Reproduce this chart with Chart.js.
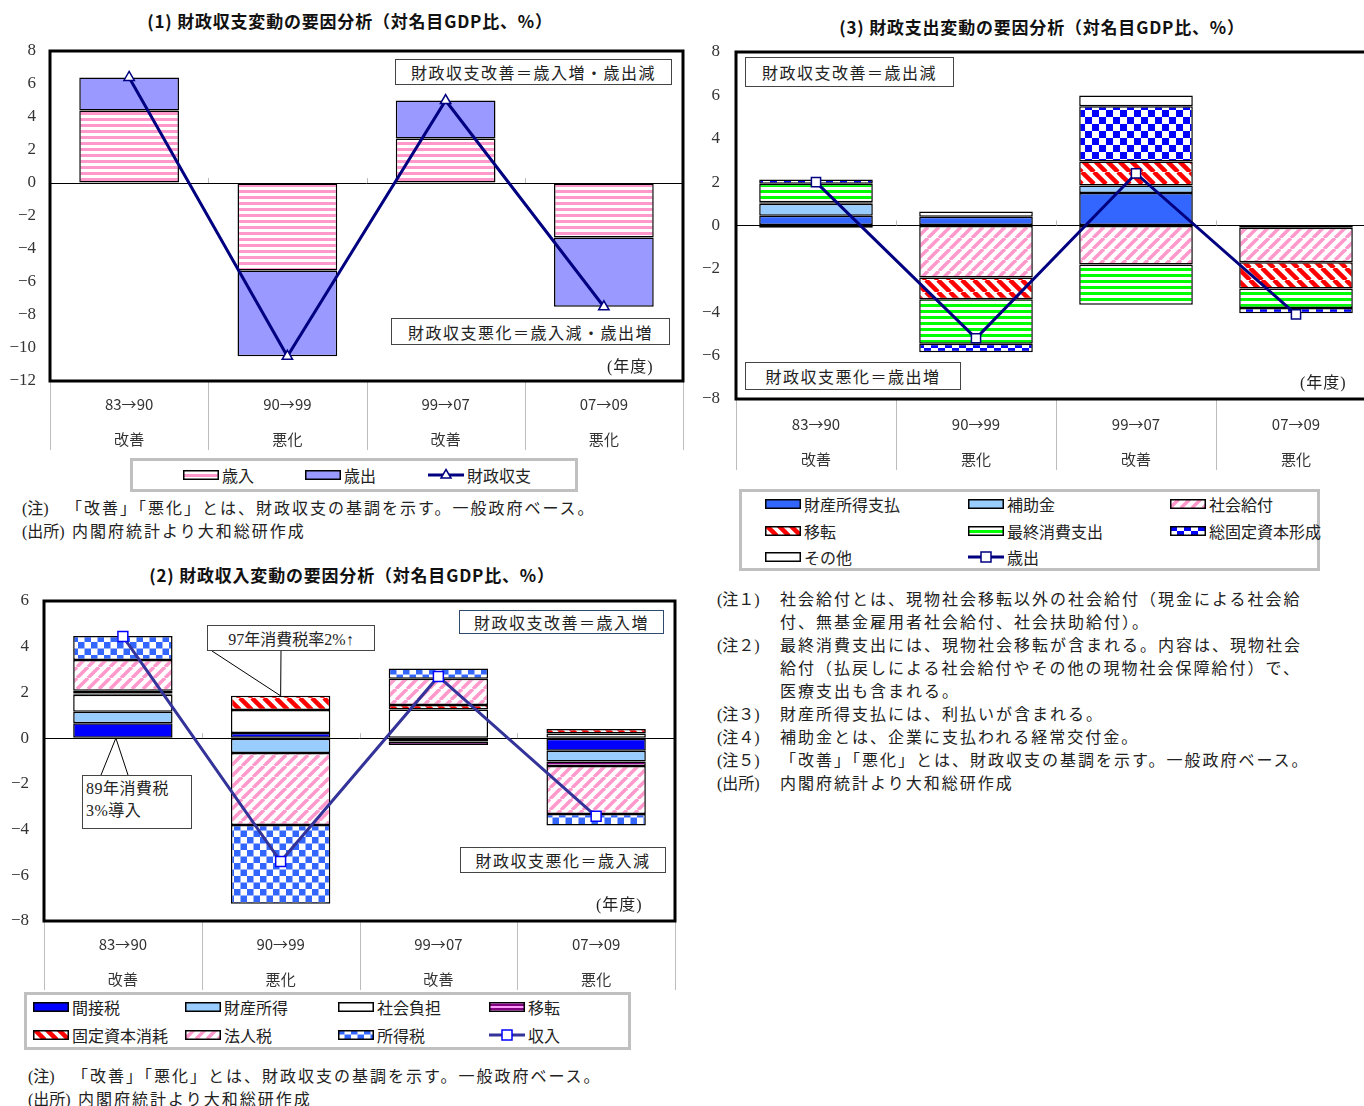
<!DOCTYPE html>
<html lang="ja">
<head>
<meta charset="utf-8">
<script src="https://cdn.jsdelivr.net/npm/chart.js@4.4.1/dist/chart.umd.min.js"></script>
<style>
  html, body { margin: 0; padding: 0; background: #fff; }
  body { width: 1364px; height: 1106px; overflow: hidden; position: relative;
         font-family: "Liberation Serif", "Noto Sans CJK JP", serif; color: #222; }
  canvas.chart { position: absolute; }
  .title { position: absolute; font-family: "Noto Sans CJK JP", sans-serif; font-weight: bold;
           font-size: 17px; letter-spacing: 0.8px; color: #111; white-space: nowrap; transform: translateX(-50%); }
  .box { position: absolute; background: #fff; border: 1.5px solid #444; box-sizing: border-box;
         display: flex; align-items: center; justify-content: center; font-size: 16px;
         letter-spacing: 1.5px; white-space: nowrap; }
  .tag { position: absolute; font-size: 16px; letter-spacing: 1px; white-space: nowrap; }
  .note { position: absolute; font-size: 16px; letter-spacing: 2px; line-height: 23px; white-space: nowrap; }
  .note span { display: inline-block; letter-spacing: 0; }
  .legend { position: absolute; border: 3px solid #c0c0c0; box-sizing: border-box; background: #fff; }
  .item { position: absolute; height: 20px; display: flex; align-items: center; font-size: 16px; white-space: nowrap; }
  .item canvas { margin-right: 3px; }
</style>
</head>
<body>

<!-- (1) 財政収支 -->
<div class="title" style="left:350px;top:8px">(1) 財政収支変動の要因分析（対名目GDP比、%）</div>
<canvas id="chartBalance" class="chart" width="700" height="420" style="left:0;top:40px"></canvas>
<div class="box" style="left:395px;top:59px;width:277px;height:26px">財政収支改善＝歳入増・歳出減</div>
<div class="box" style="left:391px;top:318px;width:279px;height:27px">財政収支悪化＝歳入減・歳出増</div>
<div class="tag" style="left:607px;top:353px">(年度)</div>
<div class="legend" style="left:130px;top:458px;width:448px;height:34px"></div>
<div id="legendBalance"></div>
<div class="note" style="left:22px;top:497px">
  <div><span style="width:44px">(注)</span>「改善」「悪化」とは、財政収支の基調を示す。一般政府ベース。</div>
  <div><span style="width:44px">(出所)</span> 内閣府統計より大和総研作成</div>
</div>

<!-- (2) 財政収入 -->
<div class="title" style="left:352px;top:562px">(2) 財政収入変動の要因分析（対名目GDP比、%）</div>
<canvas id="chartRevenue" class="chart" width="700" height="406" style="left:0;top:590px"></canvas>
<div class="box" style="left:459px;top:610px;width:205px;height:24px;border-color:#2f4a6a">財政収支改善＝歳入増</div>
<div class="box" style="left:460px;top:847px;width:206px;height:26px">財政収支悪化＝歳入減</div>
<div class="box" style="left:207px;top:625px;width:168px;height:26px;letter-spacing:0">97年消費税率2%↑</div>
<div class="box" style="left:82px;top:775px;width:110px;height:54px;display:block;padding:2px 0 0 3px;line-height:22px;letter-spacing:0.5px">89年消費税<br>3%導入</div>
<div class="tag" style="left:596px;top:891px">(年度)</div>
<div class="legend" style="left:24px;top:992px;width:607px;height:58px"></div>
<div id="legendRevenue"></div>
<div class="note" style="left:28px;top:1065px">
  <div><span style="width:44px">(注)</span>「改善」「悪化」とは、財政収支の基調を示す。一般政府ベース。</div>
  <div><span style="width:44px">(出所)</span> 内閣府統計より大和総研作成</div>
</div>

<!-- (3) 財政支出 -->
<div class="title" style="left:1042px;top:14px">(3) 財政支出変動の要因分析（対名目GDP比、%）</div>
<canvas id="chartSpending" class="chart" width="700" height="434" style="left:686px;top:40px"></canvas>
<div class="box" style="left:745px;top:57px;width:209px;height:30px">財政収支改善＝歳出減</div>
<div class="box" style="left:745px;top:362px;width:216px;height:28px">財政収支悪化＝歳出増</div>
<div class="tag" style="left:1300px;top:369px">(年度)</div>
<div class="legend" style="left:739px;top:489px;width:581px;height:82px"></div>
<div id="legendSpending"></div>
<div class="note" style="left:717px;top:588px">
  <div><span style="width:63px">(注１)</span>社会給付とは、現物社会移転以外の社会給付（現金による社会給</div>
  <div><span style="width:63px"></span>付、無基金雇用者社会給付、社会扶助給付）。</div>
  <div><span style="width:63px">(注２)</span>最終消費支出には、現物社会移転が含まれる。内容は、現物社会</div>
  <div><span style="width:63px"></span>給付（払戻しによる社会給付やその他の現物社会保障給付）で、</div>
  <div><span style="width:63px"></span>医療支出も含まれる。</div>
  <div><span style="width:63px">(注３)</span>財産所得支払には、利払いが含まれる。</div>
  <div><span style="width:63px">(注４)</span>補助金とは、企業に支払われる経常交付金。</div>
  <div><span style="width:63px">(注５)</span>「改善」「悪化」とは、財政収支の基調を示す。一般政府ベース。</div>
  <div><span style="width:63px">(出所)</span>内閣府統計より大和総研作成</div>
</div>

<script>
// ---- data ----
const periods = ['83→90', '90→99', '99→07', '07→09'];
const trend = ['改善', '悪化', '改善', '悪化'];

// (1) 財政収支変動
const balRevenue = [4.4, -5.3, 2.7, -3.3];     // 歳入
const balSpending = [2.0, -5.2, 2.3, -4.2];    // 歳出
const balTotal = [6.4, -10.5, 5.0, -7.5];      // 財政収支
const balRange = [-12, 8];

// (2) 財政収入変動
const revIndirect = [0.65, 0.23, -0.15, -0.55];     // 間接税
const revProperty = [0.5, -0.65, 0, -0.47];         // 財産所得
const revSocial = [0.75, 1.0, 1.25, 0.2];           // 社会負担
const revTransfer = [0.05, 0, -0.15, -0.2];         // 移転
const revDepreciation = [0.12, 0.62, 0.2, 0.2];     // 固定資本消耗
const revCorporate = [1.35, -3.15, 1.15, -2.1];     // 法人税
const revIncome = [1.05, -3.45, 0.45, -0.5];        // 所得税
const revTotal = [4.45, -5.4, 2.7, -3.42];          // 収入
const revRange = [-8, 6];

// (3) 財政支出変動
const expProperty = [0.45, 0.4, 1.5, 0];            // 財産所得支払
const expSubsidy = [0.55, 0, 0.35, -0.1];           // 補助金
const expBenefit = [0, -2.4, -1.8, -1.6];           // 社会給付
const expTransfer = [0.07, -1.0, 1.1, -1.2];        // 移転
const expConsumption = [0.85, -2.05, -1.85, -0.9];  // 最終消費支出
const expInvestment = [0.2, -0.4, 2.55, -0.25];     // 総固定資本形成
const expOther = [-0.1, 0.25, 0.5, 0];              // その他
const expTotal = [2.0, -5.2, 2.4, -4.1];            // 歳出
const expRange = [-8, 8];

// ---- fills ----
function makePattern(kind, fg, bg, size, lw) {
    const c = document.createElement('canvas');
    c.width = size; c.height = size;
    const g = c.getContext('2d');
    g.fillStyle = bg; g.fillRect(0, 0, size, size);
    g.fillStyle = fg; g.strokeStyle = fg; g.lineWidth = lw || 3;
    if (kind === 'hstripe') {
        g.fillRect(0, 0, size, size / 2);
    } else if (kind === 'checker') {
        g.fillRect(0, 0, size / 2, size / 2);
        g.fillRect(size / 2, size / 2, size / 2, size / 2);
    } else {
        for (let k = -1; k <= 1; k++) {
            g.beginPath();
            if (kind === 'up') { g.moveTo(k * size, size); g.lineTo(k * size + size, 0); }
            else { g.moveTo(k * size, 0); g.lineTo(k * size + size, size); }
            g.stroke();
        }
    }
    return g.createPattern(c, 'repeat');
}

const pinkStripe = makePattern('hstripe', '#ff99cc', '#ffffff', 6);
const greenStripe = makePattern('hstripe', '#00ff00', '#ffffff', 6);
const pinkDiag = makePattern('up', '#ff99cc', '#ffffff', 11, 3.5);
const redDiag = makePattern('down', '#ff0000', '#ffffff', 12, 4.5);
const blueChecker = makePattern('checker', '#3366ff', '#ffffff', 13);
const navyChecker = makePattern('checker', '#0000ff', '#ffffff', 14);
const purpleStripe = makePattern('hstripe', '#800080', '#ff99ff', 4);

const balSeries = [
    { label: '歳入', data: balRevenue, fill: pinkStripe },
    { label: '歳出', data: balSpending, fill: '#9999ff' }
];
const revSeries = [
    { label: '間接税', data: revIndirect, fill: '#0000ff' },
    { label: '財産所得', data: revProperty, fill: '#99ccff' },
    { label: '社会負担', data: revSocial, fill: '#ffffff' },
    { label: '移転', data: revTransfer, fill: purpleStripe },
    { label: '固定資本消耗', data: revDepreciation, fill: redDiag },
    { label: '法人税', data: revCorporate, fill: pinkDiag },
    { label: '所得税', data: revIncome, fill: blueChecker }
];
const expSeries = [
    { label: '財産所得支払', data: expProperty, fill: '#3366ff' },
    { label: '補助金', data: expSubsidy, fill: '#99ccff' },
    { label: '社会給付', data: expBenefit, fill: pinkDiag },
    { label: '移転', data: expTransfer, fill: redDiag },
    { label: '最終消費支出', data: expConsumption, fill: greenStripe },
    { label: '総固定資本形成', data: expInvestment, fill: navyChecker },
    { label: 'その他', data: expOther, fill: '#ffffff' }
];

// ---- frame, category dividers and callouts ----
const framePlugin = {
    id: 'frame',
    afterDraw(chart, args, opts) {
        const { ctx, chartArea: a, scales: { x, y } } = chart;
        const half = (x.getPixelForValue(1) - x.getPixelForValue(0)) / 2;
        const zy = y.getPixelForValue(0);
        ctx.save();
        ctx.strokeStyle = '#bdbdbd';
        ctx.lineWidth = 1;
        for (let i = 0; i <= periods.length; i++) {
            const px = Math.round(x.getPixelForValue(i) - half) + 0.5;
            ctx.beginPath(); ctx.moveTo(px, a.bottom); ctx.lineTo(px, a.bottom + opts.divider); ctx.stroke();
            if (i > 0 && i < periods.length) {
                ctx.beginPath(); ctx.moveTo(px, zy - 5); ctx.lineTo(px, zy); ctx.stroke();
            }
        }
        // callout pointers
        ctx.strokeStyle = '#000';
        (opts.callouts || []).forEach(c => {
            const tx = x.getPixelForValue(c.cat) + c.dx;
            const ty = y.getPixelForValue(c.value(c.cat));
            c.from.forEach(([fx, fy]) => {
                ctx.beginPath(); ctx.moveTo(fx, fy); ctx.lineTo(tx, ty); ctx.stroke();
            });
        });
        ctx.lineWidth = 3;
        ctx.strokeRect(a.left, a.top, a.width, a.height);
        ctx.restore();
    }
};

function stackTop(series, i) {
    return series.reduce((s, d) => s + (d.data[i] > 0 ? d.data[i] : 0), 0);
}

function buildChart(id, cfg) {
    const lineDs = {
        type: 'line',
        label: cfg.lineLabel,
        data: cfg.total,
        stack: 'line',
        order: 0,
        borderColor: cfg.lineColor,
        borderWidth: 3,
        tension: 0,
        pointStyle: cfg.pointStyle,
        pointRadius: cfg.pointRadius,
        pointBackgroundColor: '#ffffff',
        pointBorderColor: cfg.pointBorder,
        pointBorderWidth: 1.5
    };
    const bars = cfg.series.map(s => ({
        label: s.label,
        data: s.data.map(v => v === 0 ? null : v),
        stack: 'parts',
        order: 1,
        backgroundColor: s.fill,
        borderColor: '#000',
        borderWidth: 1.5,
        borderSkipped: false,
        barPercentage: cfg.barPct,
        categoryPercentage: 1
    }));
    return new Chart(document.getElementById(id), {
        type: 'bar',
        data: { labels: periods.map((p, i) => [p, trend[i]]), datasets: [lineDs, ...bars] },
        plugins: [framePlugin],
        options: {
            responsive: false,
            devicePixelRatio: 1,
            animation: false,
            layout: { padding: { top: cfg.top, right: cfg.right, left: 0, bottom: 0 } },
            plugins: {
                legend: { display: false },
                tooltip: { enabled: false },
                frame: { divider: cfg.divider, callouts: cfg.callouts }
            },
            scales: {
                x: {
                    stacked: true,
                    grid: { display: false },
                    border: { display: false },
                    ticks: { color: '#333', padding: cfg.labelPad,
                             font: { family: '"Noto Sans CJK JP", sans-serif', size: 15, lineHeight: '35px' } },
                    afterFit: s => { s.height = cfg.axisH; s.paddingLeft = 0; s.paddingRight = 0; }
                },
                y: {
                    stacked: true,
                    min: cfg.range[0],
                    max: cfg.range[1],
                    border: { display: false },
                    grid: { drawTicks: false, lineWidth: 1,
                            color: c => c.tick.value === 0 ? '#000' : 'rgba(0,0,0,0)' },
                    ticks: {
                        stepSize: 2,
                        padding: cfg.tickPad,
                        color: '#333',
                        font: { family: '"Liberation Serif", serif', size: 17 },
                        callback: v => v < 0 ? '−' + Math.abs(v) : String(v)
                    },
                    afterFit: s => { s.width = cfg.left; s.paddingTop = 0; s.paddingBottom = 0; }
                }
            }
        }
    });
}

buildChart('chartBalance', {
    series: balSeries, total: balTotal, range: balRange, lineLabel: '財政収支',
    lineColor: '#000080', pointStyle: 'triangle', pointRadius: 6, pointBorder: '#000080',
    barPct: 0.63, top: 11, right: 17, left: 50, axisH: 79, divider: 69, labelPad: -2, tickPad: 14
});

buildChart('chartRevenue', {
    series: revSeries, total: revTotal, range: revRange, lineLabel: '収入',
    lineColor: '#333399', pointStyle: 'rect', pointRadius: 7, pointBorder: '#0000ff',
    barPct: 0.63, top: 11, right: 25, left: 44, axisH: 75, divider: 69, labelPad: -2, tickPad: 15,
    callouts: [
        { cat: 1, dx: 0, value: i => stackTop(revSeries, i), from: [[212, 61], [281, 61]] },
        { cat: 0, dx: -7, value: () => 0, from: [[101, 185], [128, 185]] }
    ]
});

buildChart('chartSpending', {
    series: expSeries, total: expTotal, range: expRange, lineLabel: '歳出',
    lineColor: '#000080', pointStyle: 'rect', pointRadius: 6.5, pointBorder: '#000080',
    barPct: 0.71, top: 12, right: 10, left: 50, axisH: 75, divider: 71, labelPad: 0, tickPad: 16
});

// ---- legends ----
function legendItem(host, x, y, label, draw) {
    const div = document.createElement('div');
    div.className = 'item';
    div.style.left = x + 'px';
    div.style.top = (y - 10) + 'px';
    const c = document.createElement('canvas');
    c.width = 36; c.height = 14;
    draw(c.getContext('2d'));
    div.appendChild(c);
    div.appendChild(document.createTextNode(label));
    host.appendChild(div);
}

function boxSwatch(fill) {
    return g => {
        g.fillStyle = fill;
        g.fillRect(1, 3, 34, 8);
        g.strokeStyle = '#000'; g.lineWidth = 1.5;
        g.strokeRect(0.75, 2.75, 34.5, 8.5);
    };
}

function lineSwatch(color, style, border) {
    return g => {
        g.strokeStyle = color; g.lineWidth = 3;
        g.beginPath(); g.moveTo(0, 7); g.lineTo(36, 7); g.stroke();
        g.fillStyle = '#fff'; g.strokeStyle = border; g.lineWidth = 1.5;
        g.beginPath();
        if (style === 'triangle') { g.moveTo(18, 1.5); g.lineTo(23, 10); g.lineTo(13, 10); g.closePath(); }
        else g.rect(13, 2, 10, 10);
        g.fill(); g.stroke();
    };
}

const lb = document.getElementById('legendBalance');
legendItem(lb, 183, 475, balSeries[0].label, boxSwatch(balSeries[0].fill));
legendItem(lb, 305, 475, balSeries[1].label, boxSwatch(balSeries[1].fill));
legendItem(lb, 428, 475, '財政収支', lineSwatch('#000080', 'triangle', '#000080'));

const lr = document.getElementById('legendRevenue');
const revCols = [33, 185, 338, 489];
revSeries.forEach((s, i) => {
    legendItem(lr, revCols[i % 4], i < 4 ? 1007 : 1035, s.label, boxSwatch(s.fill));
});
legendItem(lr, revCols[3], 1035, '収入', lineSwatch('#333399', 'rect', '#0000ff'));

const ls = document.getElementById('legendSpending');
const expCols = [765, 968, 1170];
const expRows = [504, 531, 557];
expSeries.forEach((s, i) => {
    legendItem(ls, expCols[i % 3], expRows[Math.floor(i / 3)], s.label, boxSwatch(s.fill));
});
legendItem(ls, expCols[1], 557, '歳出', lineSwatch('#000080', 'rect', '#000080'));
</script>
</body>
</html>
